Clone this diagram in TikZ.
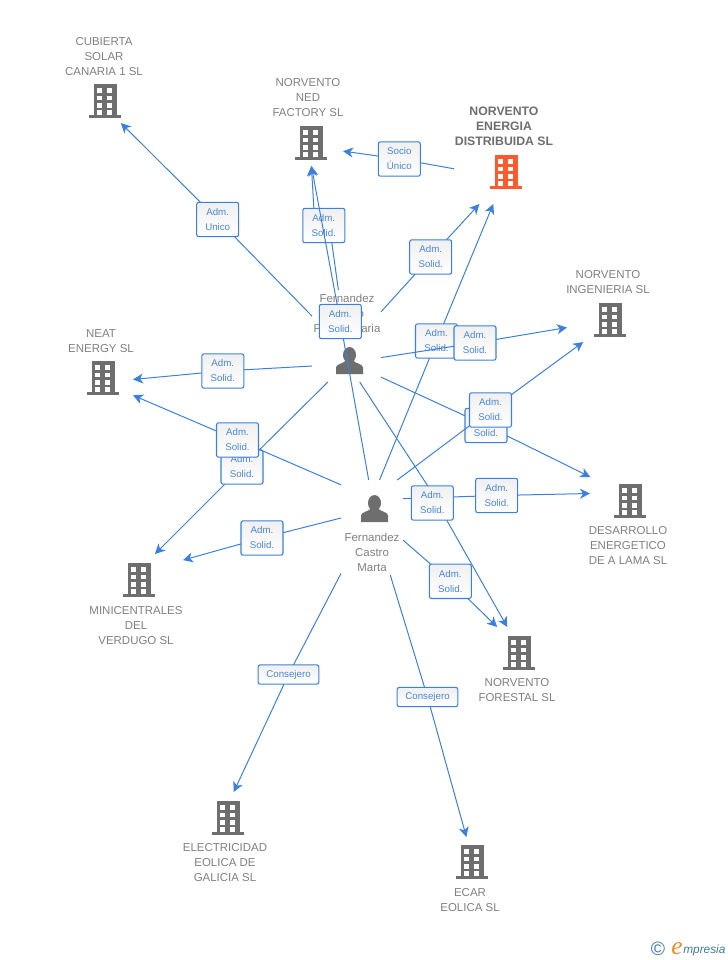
\documentclass[tikz,border=0pt]{standalone}
\usepackage{fontspec}
\setmainfont{Liberation Sans}
\newfontfamily\logofont{Liberation Serif}
\usetikzlibrary{arrows.meta}
\definecolor{linkblue}{HTML}{3B80DE}
\definecolor{labelblue}{HTML}{4A86D8}
\definecolor{icongray}{HTML}{6E6E6E}
\definecolor{namegray}{HTML}{808080}
\definecolor{mainorange}{HTML}{FF5A2B}
\definecolor{logoblue}{HTML}{3F7C9E}
\definecolor{logoorange}{HTML}{F08A24}
\tikzset{
  link/.style={draw=linkblue, line width=0.75pt},
  linkto/.style={link, -{Stealth[length=7.5pt,width=7.5pt,inset=2.2pt]}},
  rolebox/.style={draw=linkblue, line width=0.8pt, rounded corners=1.6pt, top color=black!6, bottom color=white,
    text=labelblue, font=\fontsize{7.3}{11.25}\selectfont, align=center, inner sep=0pt,
    minimum width=31.5pt, minimum height=25.8pt, outer sep=0pt},
  widebox/.style={rolebox, minimum width=45.5pt, minimum height=14.5pt},
  entitybox/.style={inner sep=0pt, outer sep=0pt},
  entityname/.style={text=namegray, font=\fontsize{8.6}{11.25}\selectfont, align=center, inner sep=0pt},
  mainname/.style={text=icongray, font=\bfseries\fontsize{9.2}{11.25}\selectfont, align=center, inner sep=0pt}
}
\newcommand{\buildingicon}[3]{
  \begin{scope}[shift={(#1,#2)}]
    \fill[#3] (-11.5,-17) rectangle (11.5,14);
    \fill[#3] (-16,14) rectangle (16,17);
    \foreach \winy in {-13,-5.5,2} {
      \fill[white] (-8,\winy) rectangle (-3,\winy+4.5);
      \fill[white] (2,\winy) rectangle (7,\winy+4.5);
    }
    \fill[white] (-8,9) rectangle (-3,14);
    \fill[white] (2,9) rectangle (7,13.5);
  \end{scope}
}
\newcommand{\personicon}[2]{
  \begin{scope}[shift={(#1,#2)}]
    \fill[icongray] (0,-5.5) ellipse (6.5 and 8);
    \fill[icongray] (-13.5,13.5) -- (-13.5,7) .. controls (-13.5,3.5) and (-6,3) .. (-3.5,0)
      -- (3.5,0) .. controls (6,3) and (13.5,3.5) .. (13.5,7) -- (13.5,13.5) -- cycle;
  \end{scope}
}
\newcommand{\entityzone}[5]{
  \node[entitybox, minimum width=#4*0.75pt, minimum height=#5*0.75pt] (#1) at (#2,#3) {};
}
\newcommand{\linkvia}[3]{
  \draw[link] (#1) -- (#2);
  \draw[linkto] (#2) -- (#3);
}
\begin{document}
\begin{tikzpicture}[x=0.75pt,y=-0.75pt]
  \useasboundingbox (0,0) rectangle (728,960);
  % zones that the connectors stop at
  \entityzone{nCubierta}{104}{79}{78}{88}
  \entityzone{nNed}{309}{120.5}{68}{91}
  \entityzone{nEnergia}{504}{153.5}{100}{101}
  \entityzone{nIngenieria}{608.5}{304.5}{83}{75}
  \entityzone{nNeat}{101}{361}{64}{70}
  \entityzone{nDesarrollo}{628.5}{522.5}{77}{91}
  \entityzone{nMini}{136}{601}{94}{94}
  \entityzone{nForestal}{517}{666}{76}{78}
  \entityzone{nElectricidad}{225.5}{838.5}{85}{93}
  \entityzone{nEcar}{470.5}{876}{59}{78}
  \entityzone{pFirst}{346.5}{336}{69}{92}
  \entityzone{pCastro}{372}{527.5}{62}{95}
  % icons
  \buildingicon{105}{101}{icongray}
  \buildingicon{311}{143}{icongray}
  \buildingicon{506}{172}{mainorange}
  \buildingicon{610}{320}{icongray}
  \buildingicon{103}{378}{icongray}
  \buildingicon{630}{501}{icongray}
  \buildingicon{139}{580}{icongray}
  \buildingicon{519}{653}{icongray}
  \buildingicon{228}{818}{icongray}
  \buildingicon{472}{862}{icongray}
  \personicon{349.5}{360.5}
  \personicon{374.5}{508.5}
  % names
  \node[entityname] (tCubierta) at (104,57) {CUBIERTA\\SOLAR\\CANARIA 1 SL};
  \node[entityname] (tNed) at (308,98) {NORVENTO\\NED\\FACTORY SL};
  \node[mainname] (tEnergia) at (504,126) {NORVENTO\\ENERGIA\\DISTRIBUIDA SL};
  \node[entityname] (tIngenieria) at (608,282.5) {NORVENTO\\INGENIERIA SL};
  \node[entityname] (tNeat) at (101,341.5) {NEAT\\ENERGY SL};
  \node[entityname] (tDesarrollo) at (628,546) {DESARROLLO\\ENERGETICO\\DE A LAMA SL};
  \node[entityname] (tMini) at (136,626) {MINICENTRALES\\DEL\\VERDUGO SL};
  \node[entityname] (tForestal) at (517,690.5) {NORVENTO\\FORESTAL SL};
  \node[entityname] (tElectricidad) at (225,863) {ELECTRICIDAD\\EOLICA DE\\GALICIA SL};
  \node[entityname] (tEcar) at (470,900.5) {ECAR\\EOLICA SL};
  \node[entityname] (tFirst) at (347,313) {Fernandez\\\hphantom{Castr}o\\P\hspace{30pt}aria};
  \node[entityname] (tCastro) at (372,552) {Fernandez\\Castro\\Marta};
  % roles and connectors
  \node[rolebox] (rSocio) at (399.3,159) {Socio\\Único};
  \linkvia{nEnergia.197}{rSocio}{nNed.-42}
  \node[rolebox] (rUnico) at (217.7,219.5) {Adm.\\Unico};
  \linkvia{pFirst.150}{rUnico}{nCubierta.-69}
  \node[rolebox] (rNed) at (323.8,225.5) {Adm.\\Solid.};
  \draw[link] (pFirst.100) -- (rNed.-65);
  \draw[linkto] (rNed.120) -- (nNed.-87.5);
  \node[rolebox] (rEnergia) at (430.7,257) {Adm.\\Solid.};
  \linkvia{pFirst.35}{rEnergia}{nEnergia.244.6}
  \node[rolebox] (rCastroEnergia) at (436.5,341) {Adm.\\Solid.};
  \linkvia{pCastro.81.6}{rCastroEnergia}{nEnergia.258.8}
  \node[rolebox] (rIngenieria) at (475,343) {Adm.\\Solid.};
  \linkvia{pFirst.-32.5}{rIngenieria}{nIngenieria.209.5}
  \node[rolebox] (rNeat) at (222.8,371) {Adm.\\Solid.};
  \linkvia{pFirst.221}{rNeat}{nNeat.-30.7}
  \node[rolebox] (rMini) at (242,467) {Adm.\\Solid.};
  \linkvia{pFirst.248}{rMini}{nMini.68}
  \node[rolebox] (rCastroNeat) at (237.5,440) {Adm.\\Solid.};
  \linkvia{pCastro.126.8}{rCastroNeat}{nNeat.-47.6}
  \node[rolebox] (rDesarrollo) at (486,425.5) {Adm.\\Solid.};
  \linkvia{pFirst.-50.6}{rDesarrollo}{nDesarrollo.130.2}
  \node[rolebox] (rCastroIngenieria) at (490.5,410) {Adm.\\Solid.};
  \linkvia{pCastro.62.2}{rCastroIngenieria}{nIngenieria.236.8}
  \node[rolebox] (rCastroDesarrollo) at (496.7,495.5) {Adm.\\Solid.};
  \linkvia{pCastro.43.6}{rCastroDesarrollo}{nDesarrollo.143.5}
  \node[rolebox] (rForestal) at (432.3,503) {Adm.\\Solid.};
  \draw[link] (pFirst.-74.8) -- (rForestal.105);
  \draw[linkto] (rForestal.-50) -- (nForestal.104.4);
  \node[rolebox] (rCastroForestal) at (450.3,581.3) {Adm.\\Solid.};
  \linkvia{pCastro.-22}{rCastroForestal}{nForestal.117.1}
  \node[rolebox] (rCastroMini) at (262,538) {Adm.\\Solid.};
  \linkvia{pCastro.163}{rCastroMini}{nMini.41.1}
  \node[rolebox] (rCastroNed) at (340.3,321.5) {Adm.\\Solid.};
  \linkvia{pCastro.94.8}{rCastroNed}{nNed.-87.5}
  \node[widebox] (rElectricidad) at (288.5,674.5) {Consejero};
  \linkvia{pCastro.236.3}{rElectricidad}{nElectricidad.80.8}
  \node[widebox] (rEcar) at (427.5,697) {Consejero};
  \linkvia{pCastro.-69}{rEcar}{nEcar.96.6}
  % logo
  \node[text=logoblue, font=\fontsize{14.5}{14.5}\selectfont, inner sep=0pt] (logoMark) at (658,949) {©};
  \node[text=logoorange, font=\logofont\itshape\fontsize{19}{19}\selectfont, inner sep=0pt, anchor=base west] (logoE) at (671,954) {e};
  \node[text=logoblue, font=\itshape\fontsize{8.9}{10}\selectfont, inner sep=0pt, anchor=base west] (logoText) at (683,953) {mpresia};
\end{tikzpicture}
\end{document}
